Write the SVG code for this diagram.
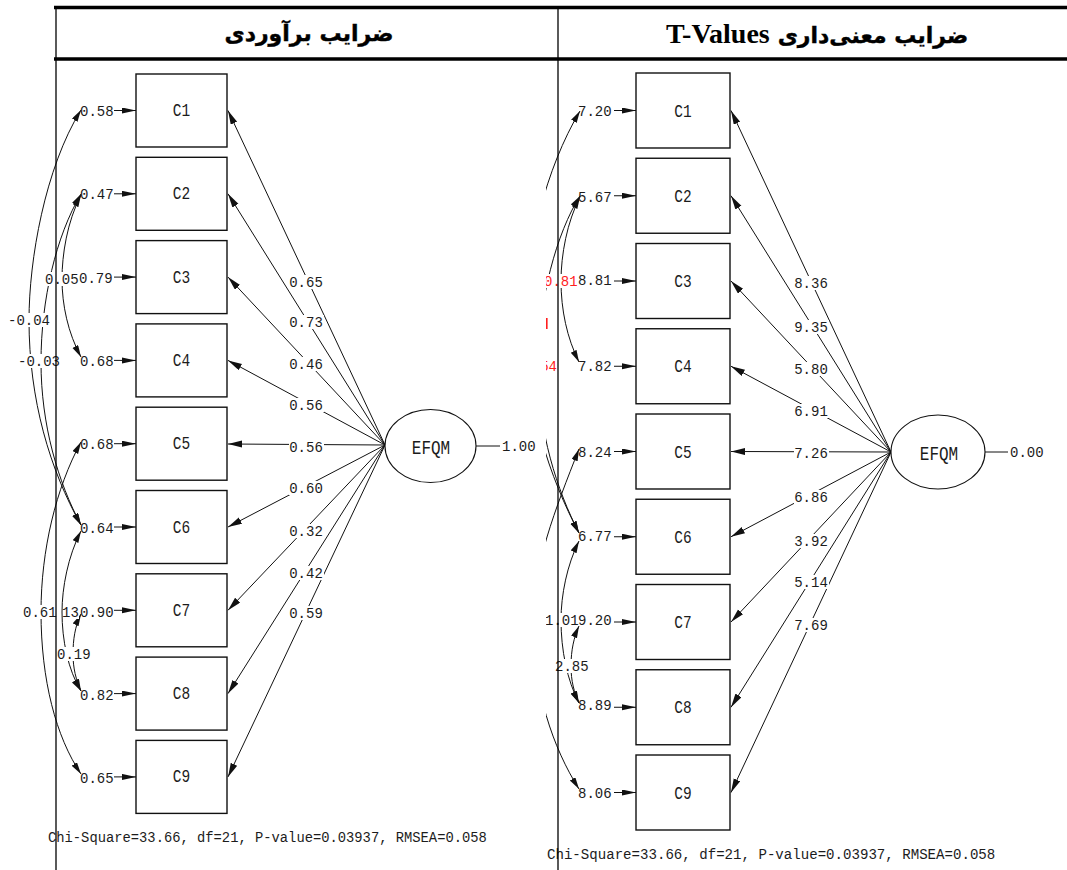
<svg xmlns="http://www.w3.org/2000/svg" width="1067" height="870" viewBox="0 0 1067 870">
  <style>
    .bg { fill: #ffffff; }
    .box { fill: #ffffff; stroke: #111; stroke-width: 1.4; }
    .lat { fill: #ffffff; stroke: #111; stroke-width: 1.1; }
    .ln { fill: none; stroke: #111; stroke-width: 1; }
    .cv { fill: none; stroke: #111; stroke-width: 1; }
    .n { font-family: "Liberation Mono", "DejaVu Sans Mono", monospace; font-size: 14px; fill: #1c1c1c; }
    .red { fill: #ff1e1e; }
    .bx { font-family: "Liberation Mono", "DejaVu Sans Mono", monospace; font-size: 14.5px; fill: #1c1c1c; text-anchor: middle; }
    .lv { font-family: "Liberation Mono", "DejaVu Sans Mono", monospace; font-size: 16px; fill: #1c1c1c; text-anchor: middle; }
    .fit { font-family: "Liberation Mono", "DejaVu Sans Mono", monospace; fill: #1c1c1c; }
    .hdr { font-family: "DejaVu Sans", "Noto Sans", sans-serif; font-weight: bold; font-size: 22px; fill: #000; stroke: #000; stroke-width: 0.4; }
    .hdrL { font-family: "Liberation Serif", "Times New Roman", serif; font-weight: bold; font-size: 28px; fill: #000; }
    .rule { stroke: #000; }
    .lb { fill: #ffffff; }
  </style>
  <defs>
    <marker id="ah" markerUnits="userSpaceOnUse" markerWidth="16" markerHeight="10" refX="14" refY="3.5" orient="auto">
      <path d="M0,0 L14,3.5 L0,7 z" fill="#111"/>
    </marker>
    <marker id="ahc" markerUnits="userSpaceOnUse" markerWidth="14" markerHeight="10" refX="12" refY="3.2" orient="auto-start-reverse">
      <path d="M0,0 L12,3.2 L0,6.4 z" fill="#111"/>
    </marker>
    <marker id="ahv" markerUnits="userSpaceOnUse" markerWidth="16" markerHeight="10" refX="14" refY="3" orient="auto">
      <path d="M0,0 L14,3 L0,6 z" fill="#111"/>
    </marker>
    <clipPath id="rclip">
      <rect x="546" y="60" width="521" height="810"/>
    </clipPath>
  </defs>

  <rect class="bg" x="0" y="0" width="1067" height="870"/>

  <!-- ===== Left model: estimates ===== -->
  <g id="left-model">
    <!-- factor loadings and error covariances -->
    <g id="left-connectors">
      <line class="ln" x1="385" y1="445" x2="228" y2="110.5" marker-end="url(#ah)"/>
      <line class="ln" x1="385" y1="445" x2="228" y2="193.8" marker-end="url(#ah)"/>
      <line class="ln" x1="385" y1="445" x2="228" y2="277.1" marker-end="url(#ah)"/>
      <line class="ln" x1="385" y1="445" x2="228" y2="360.4" marker-end="url(#ah)"/>
      <line class="ln" x1="385" y1="445" x2="228" y2="444" marker-end="url(#ah)"/>
      <line class="ln" x1="385" y1="445" x2="228" y2="527" marker-end="url(#ah)"/>
      <line class="ln" x1="385" y1="445" x2="228" y2="610.3" marker-end="url(#ah)"/>
      <line class="ln" x1="385" y1="445" x2="228" y2="693.6" marker-end="url(#ah)"/>
      <line class="ln" x1="385" y1="445" x2="228" y2="776.9" marker-end="url(#ah)"/>
      <line class="ln" x1="476" y1="446" x2="500" y2="446"/>

      <!-- error variance arrows -->
      <line class="ln" x1="114" y1="110.5" x2="136" y2="110.5" marker-end="url(#ahv)"/>
      <line class="ln" x1="114" y1="193.8" x2="136" y2="193.8" marker-end="url(#ahv)"/>
      <line class="ln" x1="114" y1="277.1" x2="136" y2="277.1" marker-end="url(#ahv)"/>
      <line class="ln" x1="114" y1="360.4" x2="136" y2="360.4" marker-end="url(#ahv)"/>
      <line class="ln" x1="114" y1="443.7" x2="136" y2="443.7" marker-end="url(#ahv)"/>
      <line class="ln" x1="114" y1="527" x2="136" y2="527" marker-end="url(#ahv)"/>
      <line class="ln" x1="114" y1="610.3" x2="136" y2="610.3" marker-end="url(#ahv)"/>
      <line class="ln" x1="114" y1="693.6" x2="136" y2="693.6" marker-end="url(#ahv)"/>
      <line class="ln" x1="114" y1="776.9" x2="136" y2="776.9" marker-end="url(#ahv)"/>

      <!-- correlated errors -->
      <path class="cv" d="M81,110 C45,168 29,260 29,320 C29,400 50,470 81,525" marker-start="url(#ahc)" marker-end="url(#ahc)"/>
      <path class="cv" d="M81,194 C56,236 41,300 41,362 C41,425 58,482 81,525" marker-start="url(#ahc)" marker-end="url(#ahc)"/>
      <path class="cv" d="M81,195 C67,222 62,255 62,279 C62,305 68,333 81,357" marker-start="url(#ahc)" marker-end="url(#ahc)"/>
      <path class="cv" d="M81,442 C56,488 41,550 41,612 C41,680 56,737 81,774" marker-start="url(#ahc)" marker-end="url(#ahc)"/>
      <path class="cv" d="M81,531 C68,556 62,588 62,612 C62,640 68,670 81,691" marker-start="url(#ahc)" marker-end="url(#ahc)"/>
      <path class="cv" d="M81,614 C75,626 73,640 73,654 C73,668 76,680 81,691" marker-start="url(#ahc)" marker-end="url(#ahc)"/>
    </g>

    <!-- loading labels -->
    <g id="left-loadings">
      <rect class="lb" x="289" y="275" width="35" height="14"/><text class="n" x="306" y="287" text-anchor="middle">0.65</text>
      <rect class="lb" x="289" y="315" width="35" height="14"/><text class="n" x="306" y="327" text-anchor="middle">0.73</text>
      <rect class="lb" x="289" y="357" width="35" height="14"/><text class="n" x="306" y="369" text-anchor="middle">0.46</text>
      <rect class="lb" x="289" y="398" width="35" height="14"/><text class="n" x="306" y="410" text-anchor="middle">0.56</text>
      <rect class="lb" x="289" y="440" width="35" height="14"/><text class="n" x="306" y="452" text-anchor="middle">0.56</text>
      <rect class="lb" x="289" y="481" width="35" height="14"/><text class="n" x="306" y="493" text-anchor="middle">0.60</text>
      <rect class="lb" x="289" y="524" width="35" height="14"/><text class="n" x="306" y="536" text-anchor="middle">0.32</text>
      <rect class="lb" x="289" y="566" width="35" height="14"/><text class="n" x="306" y="578" text-anchor="middle">0.42</text>
      <rect class="lb" x="289" y="606" width="35" height="14"/><text class="n" x="306" y="618" text-anchor="middle">0.59</text>
      <text class="n" x="502" y="451">1.00</text>
    </g>

    <!-- error covariance labels -->
    <g id="left-covariances">
      <rect class="lb" x="8" y="313" width="40" height="14"/><text class="n" x="8" y="325">-0.04</text>
      <rect class="lb" x="18" y="354" width="40" height="14"/><text class="n" x="18" y="366">-0.03</text>
      <rect class="lb" x="46" y="272" width="32" height="14"/><text class="n" x="45" y="284">0.05</text>
      <rect class="lb" x="23" y="605" width="32" height="14"/><text class="n" x="23" y="617">0.61</text>
      <rect class="lb" x="63" y="605" width="16" height="14"/><text class="n" x="62" y="617">13</text>
      <rect class="lb" x="57" y="647" width="32" height="14"/><text class="n" x="57" y="659">0.19</text>
    </g>

    <!-- error variances -->
    <g id="left-errors">
      <text class="n" x="80" y="116">0.58</text>
      <text class="n" x="80" y="199">0.47</text>
      <text class="n" x="79" y="283">0.79</text>
      <text class="n" x="80" y="366">0.68</text>
      <text class="n" x="80" y="449">0.68</text>
      <text class="n" x="80" y="533">0.64</text>
      <text class="n" x="80" y="617">0.90</text>
      <text class="n" x="80" y="700">0.82</text>
      <text class="n" x="80" y="783">0.65</text>
    </g>

    <g id="L-C1"><rect class="box" x="136" y="74" width="91" height="73"/><text class="bx" transform="translate(181.5,116) scale(1,1.3)">C1</text></g>
    <g id="L-C2"><rect class="box" x="136" y="157.3" width="91" height="73"/><text class="bx" transform="translate(181.5,199.3) scale(1,1.3)">C2</text></g>
    <g id="L-C3"><rect class="box" x="136" y="240.6" width="91" height="73"/><text class="bx" transform="translate(181.5,282.6) scale(1,1.3)">C3</text></g>
    <g id="L-C4"><rect class="box" x="136" y="323.9" width="91" height="73"/><text class="bx" transform="translate(181.5,365.9) scale(1,1.3)">C4</text></g>
    <g id="L-C5"><rect class="box" x="136" y="407.2" width="91" height="73"/><text class="bx" transform="translate(181.5,449.2) scale(1,1.3)">C5</text></g>
    <g id="L-C6"><rect class="box" x="136" y="490.5" width="91" height="73"/><text class="bx" transform="translate(181.5,532.5) scale(1,1.3)">C6</text></g>
    <g id="L-C7"><rect class="box" x="136" y="573.8" width="91" height="73"/><text class="bx" transform="translate(181.5,615.8) scale(1,1.3)">C7</text></g>
    <g id="L-C8"><rect class="box" x="136" y="657.1" width="91" height="73"/><text class="bx" transform="translate(181.5,699.1) scale(1,1.3)">C8</text></g>
    <g id="L-C9"><rect class="box" x="136" y="740.4" width="91" height="73"/><text class="bx" transform="translate(181.5,782.4) scale(1,1.3)">C9</text></g>

    <g id="L-EFQM">
      <ellipse class="lat" cx="430.5" cy="446" rx="45.5" ry="36.5"/>
      <text class="lv" transform="translate(431,453.5) scale(1,1.3)">EFQM</text>
    </g>

    <text class="fit" font-size="13.8" x="48" y="842">Chi-Square=33.66, df=21, P-value=0.03937, RMSEA=0.058</text>
  </g>

  <!-- ===== Right model: t-values ===== -->
  <g id="right-model">
    <g id="right-connectors">
      <line class="ln" x1="891" y1="452" x2="731" y2="110.5" marker-end="url(#ah)"/>
      <line class="ln" x1="891" y1="452" x2="731" y2="195.75" marker-end="url(#ah)"/>
      <line class="ln" x1="891" y1="452" x2="731" y2="281" marker-end="url(#ah)"/>
      <line class="ln" x1="891" y1="452" x2="731" y2="366.25" marker-end="url(#ah)"/>
      <line class="ln" x1="891" y1="452" x2="731" y2="451.5" marker-end="url(#ah)"/>
      <line class="ln" x1="891" y1="452" x2="731" y2="536.75" marker-end="url(#ah)"/>
      <line class="ln" x1="891" y1="452" x2="731" y2="622" marker-end="url(#ah)"/>
      <line class="ln" x1="891" y1="452" x2="731" y2="707.25" marker-end="url(#ah)"/>
      <line class="ln" x1="891" y1="452" x2="731" y2="792.5" marker-end="url(#ah)"/>
      <line class="ln" x1="985" y1="452" x2="1008" y2="452"/>

      <line class="ln" x1="614" y1="110.5" x2="636" y2="110.5" marker-end="url(#ahv)"/>
      <line class="ln" x1="614" y1="195.75" x2="636" y2="195.75" marker-end="url(#ahv)"/>
      <line class="ln" x1="614" y1="281" x2="636" y2="281" marker-end="url(#ahv)"/>
      <line class="ln" x1="614" y1="366.25" x2="636" y2="366.25" marker-end="url(#ahv)"/>
      <line class="ln" x1="614" y1="451.5" x2="636" y2="451.5" marker-end="url(#ahv)"/>
      <line class="ln" x1="614" y1="536.75" x2="636" y2="536.75" marker-end="url(#ahv)"/>
      <line class="ln" x1="614" y1="622" x2="636" y2="622" marker-end="url(#ahv)"/>
      <line class="ln" x1="614" y1="707.25" x2="636" y2="707.25" marker-end="url(#ahv)"/>
      <line class="ln" x1="614" y1="792.5" x2="636" y2="792.5" marker-end="url(#ahv)"/>

      <g clip-path="url(#rclip)">
        <path class="cv" d="M580,111 C546,168 525,250 525,323 C525,405 550,478 579,533" marker-start="url(#ahc)" marker-end="url(#ahc)"/>
        <path class="cv" d="M580,196 C557,232 538,300 538,366 C538,432 557,490 579,533" marker-start="url(#ahc)" marker-end="url(#ahc)"/>
        <path class="cv" d="M580,197 C567,222 561,255 561,281 C561,310 567,338 579,362" marker-start="url(#ahc)" marker-end="url(#ahc)"/>
        <path class="cv" d="M579,449 C555,510 533,565 533,622 C533,690 553,748 579,789" marker-start="url(#ahc)" marker-end="url(#ahc)"/>
        <path class="cv" d="M579,541 C567,565 561,595 561,620 C561,650 567,680 579,703" marker-start="url(#ahc)" marker-end="url(#ahc)"/>
        <path class="cv" d="M579,626 C574,637 571,650 571,666 C571,681 574,692 579,703" marker-start="url(#ahc)" marker-end="url(#ahc)"/>
      </g>
    </g>

    <g id="right-loadings">
      <rect class="lb" x="794" y="276" width="35" height="14"/><text class="n" x="811" y="288" text-anchor="middle">8.36</text>
      <rect class="lb" x="794" y="320" width="35" height="14"/><text class="n" x="811" y="332" text-anchor="middle">9.35</text>
      <rect class="lb" x="794" y="362" width="35" height="14"/><text class="n" x="811" y="374" text-anchor="middle">5.80</text>
      <rect class="lb" x="794" y="404" width="35" height="14"/><text class="n" x="811" y="416" text-anchor="middle">6.91</text>
      <rect class="lb" x="794" y="446" width="35" height="14"/><text class="n" x="811" y="458" text-anchor="middle">7.26</text>
      <rect class="lb" x="794" y="490" width="35" height="14"/><text class="n" x="811" y="502" text-anchor="middle">6.86</text>
      <rect class="lb" x="794" y="534" width="35" height="14"/><text class="n" x="811" y="546" text-anchor="middle">3.92</text>
      <rect class="lb" x="794" y="575" width="35" height="14"/><text class="n" x="811" y="587" text-anchor="middle">5.14</text>
      <rect class="lb" x="794" y="618" width="35" height="14"/><text class="n" x="811" y="630" text-anchor="middle">7.69</text>
      <text class="n" x="1010" y="457">0.00</text>
    </g>

    <g id="right-covariances" clip-path="url(#rclip)">
      <rect class="lb" x="545" y="274" width="33" height="14"/><text class="n red" x="544" y="286">0.81</text>
      <rect class="lb" x="545" y="359" width="12" height="14"/><text class="n red" x="515" y="371">-0.54</text>
      <rect class="red" x="546" y="318" width="1.6" height="11"/>
      <rect class="lb" x="545" y="613" width="33" height="14"/><text class="n" x="545" y="625">1.01</text>
      <rect class="lb" x="555" y="659" width="33" height="14"/><text class="n" x="555" y="671">2.85</text>
    </g>

    <g id="right-errors">
      <text class="n" x="578" y="116">7.20</text>
      <text class="n" x="578" y="202">5.67</text>
      <text class="n" x="578" y="285">8.81</text>
      <text class="n" x="578" y="371">7.82</text>
      <text class="n" x="578" y="457">8.24</text>
      <text class="n" x="578" y="541">6.77</text>
      <text class="n" x="578" y="625">9.20</text>
      <text class="n" x="578" y="710">8.89</text>
      <text class="n" x="578" y="798">8.06</text>
    </g>

    <g id="R-C1"><rect class="box" x="636" y="73" width="94" height="75"/><text class="bx" transform="translate(683,116.5) scale(1,1.3)">C1</text></g>
    <g id="R-C2"><rect class="box" x="636" y="158.25" width="94" height="75"/><text class="bx" transform="translate(683,201.75) scale(1,1.3)">C2</text></g>
    <g id="R-C3"><rect class="box" x="636" y="243.5" width="94" height="75"/><text class="bx" transform="translate(683,287) scale(1,1.3)">C3</text></g>
    <g id="R-C4"><rect class="box" x="636" y="328.75" width="94" height="75"/><text class="bx" transform="translate(683,372.25) scale(1,1.3)">C4</text></g>
    <g id="R-C5"><rect class="box" x="636" y="414" width="94" height="75"/><text class="bx" transform="translate(683,457.5) scale(1,1.3)">C5</text></g>
    <g id="R-C6"><rect class="box" x="636" y="499.25" width="94" height="75"/><text class="bx" transform="translate(683,542.75) scale(1,1.3)">C6</text></g>
    <g id="R-C7"><rect class="box" x="636" y="584.5" width="94" height="75"/><text class="bx" transform="translate(683,628) scale(1,1.3)">C7</text></g>
    <g id="R-C8"><rect class="box" x="636" y="669.75" width="94" height="75"/><text class="bx" transform="translate(683,713.25) scale(1,1.3)">C8</text></g>
    <g id="R-C9"><rect class="box" x="636" y="755" width="94" height="75"/><text class="bx" transform="translate(683,798.5) scale(1,1.3)">C9</text></g>

    <g id="R-EFQM">
      <ellipse class="lat" cx="938" cy="452" rx="47" ry="37"/>
      <text class="lv" transform="translate(939,459.5) scale(1,1.3)">EFQM</text>
    </g>

    <text class="fit" font-size="14.1" x="547" y="859">Chi-Square=33.66, df=21, P-value=0.03937, RMSEA=0.058</text>
  </g>

  <!-- ===== Table frame and headings ===== -->
  <g id="table">
    <line class="rule" x1="54" y1="7.5" x2="1067" y2="7.5" stroke-width="3.5"/>
    <line class="rule" x1="54" y1="59" x2="1067" y2="59" stroke-width="3.5"/>
    <line class="rule" x1="56" y1="6" x2="56" y2="870" stroke-width="1.3"/>
    <line class="rule" x1="558" y1="6" x2="558" y2="870" stroke-width="1.3"/>
    <text class="hdr" x="309" y="41" text-anchor="middle">ضرایب برآوردی</text>
    <text class="hdrL" x="666" y="43">T-Values</text>
    <text class="hdr" x="873" y="43" text-anchor="middle">ضرایب معنی‌داری</text>
  </g>
</svg>
